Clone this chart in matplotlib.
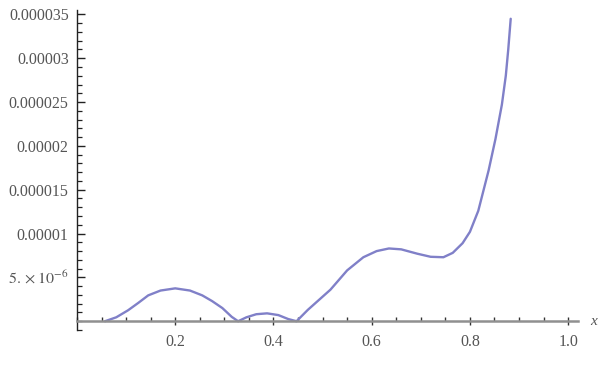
import numpy as np
import matplotlib
matplotlib.use("Agg")
import matplotlib.pyplot as plt
from matplotlib.ticker import MultipleLocator, FixedLocator

plt.rcParams['font.family'] = ['Liberation Serif', 'DejaVu Serif']
plt.rcParams['mathtext.fontset'] = 'stix'

# valores
x_vals = [0.057, 0.08, 0.104, 0.125, 0.145, 0.17, 0.2, 0.23, 0.255, 0.275,
          0.296, 0.315, 0.328, 0.345, 0.365, 0.387, 0.41, 0.43, 0.447, 0.47,
          0.49, 0.516, 0.55, 0.583, 0.61, 0.635, 0.66, 0.693, 0.72, 0.746,
          0.765, 0.785, 0.8, 0.817, 0.838, 0.852, 0.865, 0.873, 0.878, 0.883]
y_vals = [0.0, 0.45e-6, 1.25e-6, 2.1e-6, 2.95e-6, 3.5e-6, 3.75e-6, 3.5e-6, 2.95e-6, 2.3e-6,
          1.5e-6, 0.5e-6, 0.0, 0.45e-6, 0.8e-6, 0.9e-6, 0.7e-6, 0.25e-6, 0.0, 1.3e-6,
          2.3e-6, 3.6e-6, 5.8e-6, 7.3e-6, 8.0e-6, 8.3e-6, 8.2e-6, 7.7e-6, 7.35e-6, 7.3e-6,
          7.8e-6, 8.9e-6, 1.02e-5, 1.26e-5, 1.72e-5, 2.08e-5, 2.47e-5, 2.8e-5, 3.1e-5, 3.45e-5]

x_ticks = [0.2, 0.4, 0.6, 0.8, 1.0]
x_labels = ['0.2', '0.4', '0.6', '0.8', '1.0']
y_ticks = [5e-6, 1e-5, 1.5e-5, 2e-5, 2.5e-5, 3e-5, 3.5e-5]
y_labels = [r'$5.\times10^{-6}$', '0.00001', '0.000015', '0.00002',
            '0.000025', '0.00003', '0.000035']

W, H = 605, 366
fig = plt.figure(figsize=(W / 100, H / 100), dpi=100)
ax = fig.add_axes([77 / W, (H - 330) / H, (578 - 77) / W, 320 / H])

ax.plot(x_vals, y_vals, color='#8080c8', lw=1.7, solid_capstyle='round',
        solid_joinstyle='round')

ax.set_xlim(0, 1.02)
ax.set_ylim(-1.0e-6, 3.55e-5)

for s in ['top', 'right']:
    ax.spines[s].set_visible(False)
ax.spines['left'].set_position(('data', 0))
ax.spines['bottom'].set_position(('data', 0))
ax.spines['left'].set_color('#222222')
ax.spines['left'].set_linewidth(1.0)
ax.spines['bottom'].set_color('#909090')
ax.spines['bottom'].set_linewidth(1.8)

ax.xaxis.set_major_locator(FixedLocator(x_ticks))
ax.set_xticklabels(x_labels)
ax.xaxis.set_minor_locator(MultipleLocator(0.05))
ax.yaxis.set_major_locator(FixedLocator(y_ticks))
ax.set_yticklabels(y_labels)
ax.yaxis.set_minor_locator(MultipleLocator(1e-6))

ax.tick_params(axis='x', which='major', direction='inout', length=6, width=1.0,
               color='#333333', labelsize=11.5, labelcolor='#555555', pad=6)
ax.tick_params(axis='x', which='minor', direction='in', length=3, width=1.0, color='#333333')
ax.tick_params(axis='y', which='major', direction='in', length=6, width=1.0,
               color='#222222', labelsize=11.5, labelcolor='#555555', pad=6)
ax.tick_params(axis='y', which='minor', direction='in', length=3.5, width=0.9, color='#222222')

ax.text(1.045, 0, 'x', style='italic', fontsize=11, color='#555555',
        ha='left', va='center', clip_on=False)

fig.savefig('out.png', dpi=100)
